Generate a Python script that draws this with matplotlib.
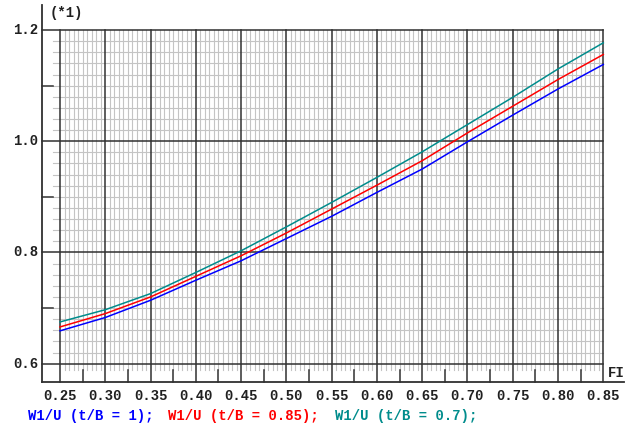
import numpy as np
import matplotlib
matplotlib.use("Agg")
import matplotlib.pyplot as plt

# ---- data ----
fi = [0.25, 0.30, 0.35, 0.40, 0.45, 0.50, 0.55, 0.60, 0.65, 0.70, 0.75, 0.80, 0.85]
w1u_tb_1 = [0.659, 0.683, 0.714, 0.750, 0.785, 0.825, 0.865, 0.908, 0.950, 0.999, 1.047, 1.094, 1.138]
w1u_tb_085 = [0.666, 0.690, 0.720, 0.757, 0.794, 0.835, 0.878, 0.921, 0.965, 1.015, 1.063, 1.111, 1.156]
w1u_tb_07 = [0.675, 0.697, 0.726, 0.764, 0.803, 0.846, 0.890, 0.935, 0.981, 1.030, 1.079, 1.130, 1.177]
series_labels = ["W1/U (t/B = 1);", "W1/U (t/B = 0.85);", "W1/U (t/B = 0.7);"]
series_colors = ["#0000ff", "#ff0000", "#008c8c"]
x_ticks = [0.25, 0.30, 0.35, 0.40, 0.45, 0.50, 0.55, 0.60, 0.65, 0.70, 0.75, 0.80, 0.85]
y_ticks = [0.6, 0.8, 1.0, 1.2]
x_label = "FI"
y_unit = "(*1)"

W, H = 635, 428
fig = plt.figure(figsize=(W / 100, H / 100), dpi=100)
ax = fig.add_axes([42 / W, 1 - 382 / H, (603.3 - 42) / W, (382 - 5) / H])
x0, x1 = 0.2301, 0.85
y0, y1 = 0.567, 1.245
ax.set_xlim(x0, x1)
ax.set_ylim(y0, y1)
ax.axis("off")

px_x = (x1 - x0) / (603.3 - 42)
px_y = (y1 - y0) / (382 - 5)

dark = "#303030"
light = "#c4c4c4"
font = dict(family=["Liberation Mono", "DejaVu Sans Mono"], fontweight="bold", fontsize=10)

xmin, xmax = x_ticks[0], x_ticks[-1]
ymin, ymax = y_ticks[0], y_ticks[-1]

# minor vertical grid
for xv in np.arange(xmin, xmax + 1e-9, 0.005):
    if abs((xv - xmin) / 0.05 - round((xv - xmin) / 0.05)) > 1e-6:
        ax.plot([xv, xv], [ymin - 6 * px_y, ymax], color=light, lw=0.8, zorder=1, clip_on=False)
# minor horizontal grid
for yv in np.arange(ymin, ymax + 1e-9, 0.02):
    if abs((yv - ymin) / 0.2 - round((yv - ymin) / 0.2)) > 1e-6:
        ax.plot([xmin - 7 * px_x, xmax], [yv, yv], color=light, lw=0.8, zorder=1, clip_on=False)
# major grid
for yv in y_ticks:
    ax.plot([x0, xmax], [yv, yv], color=dark, lw=1.1, zorder=2, clip_on=False)
for xv in x_ticks:
    ax.plot([xv, xv], [y0, ymax], color=dark, lw=1.1, zorder=2, clip_on=False)
# axes
ax.plot([x0, x0], [y0, y1], color=dark, lw=1.3, zorder=3, clip_on=False)
ax.plot([x0, xmax + 21 * px_x], [y0, y0], color=dark, lw=1.3, zorder=3, clip_on=False)
# intermediate ticks
for yv in np.arange(ymin + 0.1, ymax, 0.2):
    ax.plot([x0, x0 + 11 * px_x], [yv, yv], color=dark, lw=1.1, zorder=3, clip_on=False)
for xv in np.arange(xmin + 0.025, xmax, 0.05):
    ax.plot([xv, xv], [y0, y0 + 12 * px_y], color=dark, lw=1.1, zorder=3, clip_on=False)

# curves
for ys, c in zip([w1u_tb_1, w1u_tb_085, w1u_tb_07], series_colors):
    ax.plot(fi, ys, color=c, lw=1.1, zorder=4, clip_on=False)

# tick labels
for xv in x_ticks:
    ax.text(xv, y0 - 14 * px_y, f"{xv:.2f}", ha="center", va="center", color="#202020", **font)
for yv in y_ticks:
    ax.text(x0 - 4 * px_x, yv, f"{yv:.1f}", ha="right", va="center", color="#202020", **font)
ax.text(x0 + 8 * px_x, y1 - 8 * px_y, y_unit, ha="left", va="center", color="#202020", **font)
ax.text(xmax + 5 * px_x, y0 + 9 * px_y, x_label, ha="left", va="center", color="#202020", **font)

# legend line
xs_px = [28, 168, 335]
for lab, c, xp in zip(series_labels, series_colors, xs_px):
    fig.text(xp / W, 1 - 416 / H, lab, ha="left", va="center", color=c, **font)

fig.savefig("out.png", dpi=100)
